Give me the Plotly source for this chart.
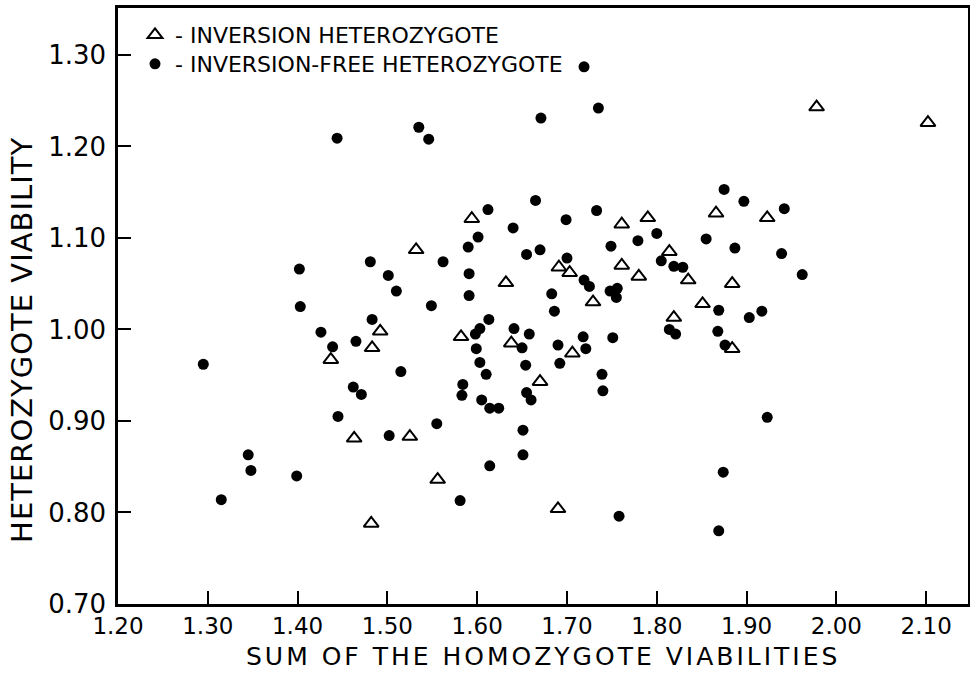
import plotly.graph_objects as go

# Inversion heterozygotes (open triangles)
inv_x = [1.437, 1.483, 1.492, 1.463, 1.525, 1.482, 1.556, 1.532, 1.594, 1.582,
         1.632, 1.638, 1.670, 1.690, 1.691, 1.703, 1.706, 1.729, 1.761, 1.790,
         1.761, 1.780, 1.814, 1.819, 1.835, 1.851, 1.866, 1.884, 1.923, 1.884,
         1.978, 2.102]
inv_y = [0.967, 0.980, 0.998, 0.881, 0.883, 0.788, 0.836, 1.087, 1.121, 0.992,
         1.051, 0.985, 0.943, 0.804, 1.068, 1.062, 0.974, 1.030, 1.115, 1.122,
         1.070, 1.058, 1.085, 1.013, 1.054, 1.028, 1.127, 1.050, 1.122, 0.979,
         1.243, 1.226]

# Inversion-free heterozygotes (filled dots)
free_x = [1.295, 1.315, 1.345, 1.348, 1.399, 1.402, 1.403, 1.426, 1.439, 1.445,
          1.444, 1.465, 1.462, 1.471, 1.481, 1.483, 1.501, 1.510, 1.515, 1.502,
          1.549, 1.562, 1.555, 1.535, 1.546, 1.581, 1.584, 1.583, 1.590, 1.591,
          1.591, 1.598, 1.603, 1.599, 1.603, 1.610, 1.605, 1.614, 1.624, 1.601,
          1.612, 1.613, 1.614, 1.640, 1.655, 1.665, 1.670, 1.671, 1.641, 1.658,
          1.650, 1.654, 1.655, 1.660, 1.651, 1.651, 1.683, 1.686, 1.699, 1.700,
          1.690, 1.692, 1.719, 1.725, 1.718, 1.721, 1.719, 1.735, 1.733, 1.748,
          1.756, 1.755, 1.751, 1.739, 1.740, 1.758, 1.749, 1.779, 1.800, 1.805,
          1.819, 1.829, 1.814, 1.821, 1.855, 1.875, 1.897, 1.942, 1.887, 1.939,
          1.962, 1.869, 1.868, 1.876, 1.903, 1.917, 1.923, 1.874, 1.869]
free_y = [0.962, 0.814, 0.863, 0.846, 0.840, 1.066, 1.025, 0.997, 0.981, 0.905,
          1.209, 0.987, 0.937, 0.929, 1.074, 1.011, 1.059, 1.042, 0.954, 0.884,
          1.026, 1.074, 0.897, 1.221, 1.208, 0.813, 0.940, 0.928, 1.090, 1.061,
          1.037, 0.995, 1.001, 0.979, 0.964, 0.951, 0.923, 0.914, 0.914, 1.101,
          1.131, 1.011, 0.851, 1.111, 1.082, 1.141, 1.087, 1.231, 1.001, 0.995,
          0.980, 0.961, 0.931, 0.923, 0.890, 0.863, 1.039, 1.020, 1.120, 1.078,
          0.983, 0.963, 1.054, 1.047, 0.992, 0.979, 1.287, 1.242, 1.130, 1.042,
          1.045, 1.035, 0.991, 0.951, 0.933, 0.796, 1.091, 1.097, 1.105, 1.075,
          1.069, 1.068, 1.000, 0.995, 1.099, 1.153, 1.140, 1.132, 1.089, 1.083,
          1.060, 1.021, 0.998, 0.983, 1.013, 1.020, 0.904, 0.844, 0.780]

x_ticks = [1.20, 1.30, 1.40, 1.50, 1.60, 1.70, 1.80, 1.90, 2.00, 2.10]
y_ticks = [0.70, 0.80, 0.90, 1.00, 1.10, 1.20, 1.30]

x_title = "SUM OF THE HOMOZYGOTE VIABILITIES"
y_title = "HETEROZYGOTE VIABILITY"

FONT = "DejaVu Sans"

fig = go.Figure()
fig.add_trace(go.Scatter(
    x=inv_x, y=inv_y, mode="markers", name="- INVERSION HETEROZYGOTE",
    marker=dict(symbol="triangle-up-open", size=13, color="black",
                line=dict(width=2, color="black")),
    legend="legend"))
fig.add_trace(go.Scatter(
    x=free_x, y=free_y, mode="markers", name="- INVERSION-FREE HETEROZYGOTE",
    marker=dict(symbol="circle", size=11, color="black"),
    legend="legend2"))

axis_common = dict(
    showgrid=False, zeroline=False, showline=True, mirror=True,
    linecolor="black", linewidth=2.5, ticks="inside", ticklen=13,
    tickwidth=2, tickcolor="black")

fig.update_xaxes(range=[1.20, 2.1466], tickvals=x_ticks,
                 ticktext=[f"{v:.2f}" for v in x_ticks],
                 ticklabelstandoff=0,
                 tickfont=dict(family=FONT, size=23, color="black"),
                 **axis_common)
fig.update_yaxes(range=[0.70, 1.3513], tickvals=y_ticks,
                 ticktext=[f"{v:.2f}" for v in y_ticks],
                 ticklabelstandoff=4,
                 tickfont=dict(family=FONT, size=26, color="black"),
                 **axis_common)

fig.update_layout(
    width=970, height=673,
    margin=dict(l=118, r=2, t=8, b=69, autoexpand=False),
    paper_bgcolor="white", plot_bgcolor="white",
    font=dict(family=FONT, color="black"),
    showlegend=True,
    legend=dict(x=0.02, y=0.9547, xanchor="left", yanchor="middle",
                bgcolor="rgba(0,0,0,0)", font=dict(family=FONT, size=22)),
    legend2=dict(x=0.02, y=0.906, xanchor="left", yanchor="middle",
                 bgcolor="rgba(0,0,0,0)", font=dict(family=FONT, size=22)),
    annotations=[
        dict(text=f'<span style="letter-spacing:3px">{x_title}</span>',
             xref="paper", yref="paper",
             x=0.5, y=-0.1145, xanchor="center", yanchor="bottom",
             borderpad=0, showarrow=False,
             font=dict(family=FONT, size=25, color="black")),
        dict(text=f'<span style="letter-spacing:1px">{y_title}</span>',
             xref="paper", yref="paper",
             x=-0.113, y=0.443, xanchor="center", yanchor="middle",
             textangle=-90, showarrow=False,
             font=dict(family=FONT, size=29, color="black")),
    ],
)

fig.write_html(
    "out.html",
    config={"displayModeBar": False},
    post_script="document.body.style.margin='0';document.body.style.overflow='hidden';",
)
